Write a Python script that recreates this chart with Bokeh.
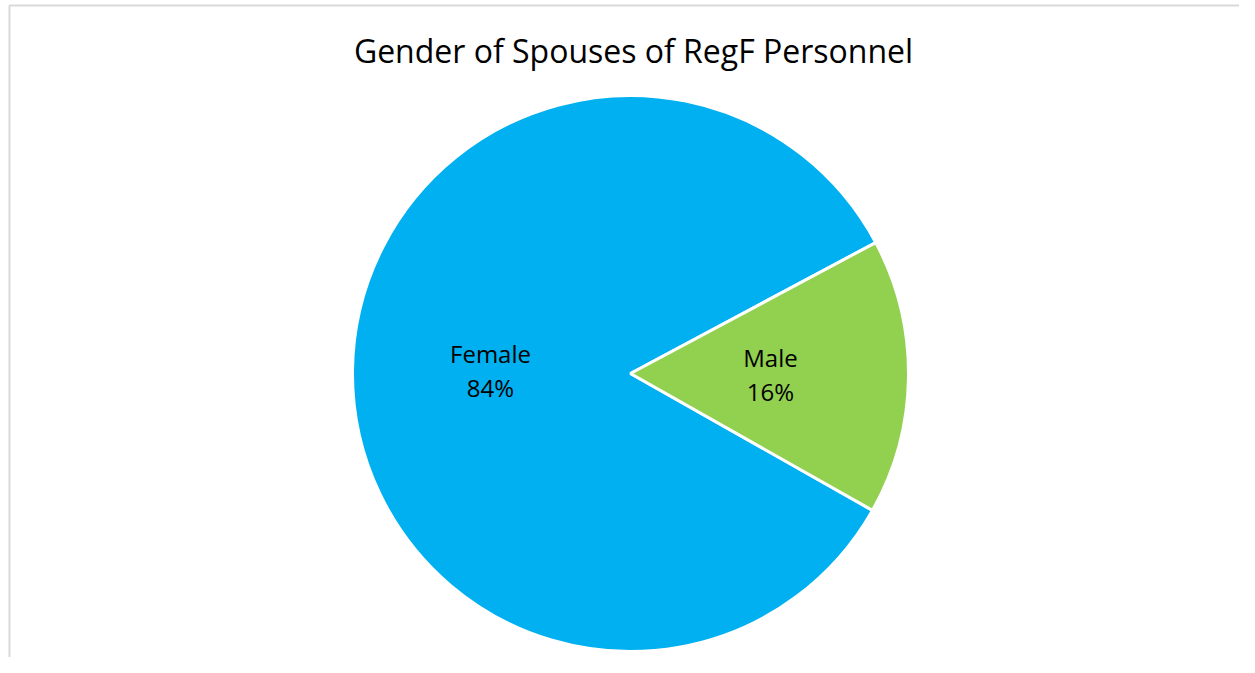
import math
from bokeh.plotting import figure
from bokeh.models import Range1d, ColumnDataSource
from bokeh.core.properties import value
from bokeh.embed import file_html
from bokeh.resources import INLINE

categories = ["Female", "Male"]
shares = [84, 16]
colors = ["#00B0F0", "#92D050"]
title_text = "Gender of Spouses of RegF Personnel"

W, H = 1239, 657
p = figure(width=W, height=H, x_range=Range1d(0, W), y_range=Range1d(0, H),
           output_backend="svg", toolbar_location=None, min_border=0)
p.axis.visible = False
p.grid.visible = False
p.outline_line_color = None
p.background_fill_color = "white"
p.border_fill_color = "white"

# chart area border (left and top edges visible)
p.quad(left=[9], right=[W + 50], top=[H - 5], bottom=[-50],
       fill_color=None, line_color="#d9d9d9", line_width=2)

cx, cy, r = 630, H - 373, 278
total = sum(shares)
male_start = math.radians(-29.5)
starts, ends = {}, {}
a = male_start
for cat in ["Male", "Female"]:
    i = categories.index(cat)
    span = 2 * math.pi * shares[i] / total
    starts[cat] = a
    ends[cat] = a + span
    a += span

src = ColumnDataSource(dict(
    start=[starts[c] for c in categories],
    end=[ends[c] for c in categories],
    color=colors,
    x=[cx] * len(categories), y=[cy] * len(categories),
))
p.wedge(x="x", y="y", radius=r, start_angle="start", end_angle="end",
        fill_color="color", line_color="white", line_width=3, source=src)

lx, ly1, ly2, txt1, txt2 = [], [], [], [], []
for i, c in enumerate(categories):
    mid = (starts[c] + ends[c]) / 2
    x = cx + 140 * math.cos(mid)
    y = cy + 140 * math.sin(mid)
    lx.append(x)
    ly1.append(y + 18)
    ly2.append(y - 16)
    txt1.append(c)
    txt2.append(f"{shares[i]}%")
p.text(x=lx, y=ly1, text=txt1, text_align="center", text_baseline="alphabetic",
       text_font=value("Open Sans"), text_font_size="24px", text_color="black")
p.text(x=lx, y=ly2, text=txt2, text_align="center", text_baseline="alphabetic",
       text_font=value("Open Sans"), text_font_size="24px", text_color="black")

p.text(x=[633], y=[H - 50], text=[title_text], text_align="center", text_baseline="alphabetic",
       text_font=value("Open Sans"), text_font_size="32px", text_color="black")

open("out.html", "w").write(file_html(p, INLINE))
